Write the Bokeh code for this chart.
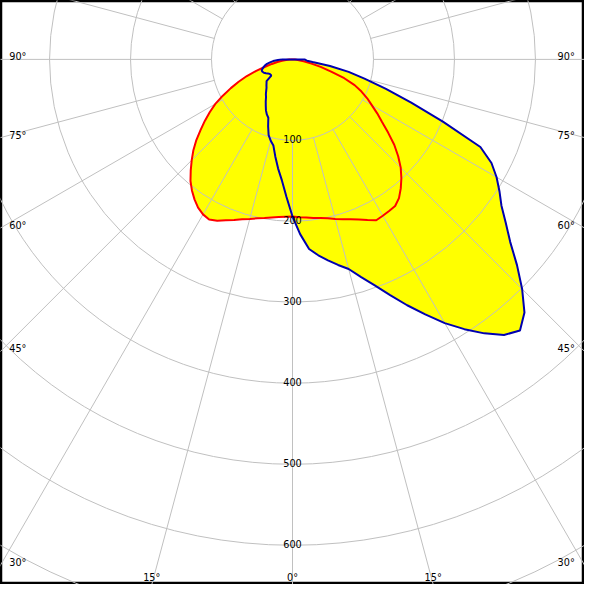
import numpy as np
from bokeh.plotting import figure
from bokeh.models import Range1d
from bokeh.core.properties import value
from bokeh.embed import file_html
from bokeh.resources import INLINE

# ---- data (gamma in degrees, luminous intensity in cd) ----
gamma = [0, 2.5, 5, 7.5, 10, 12.5, 15, 17.5, 20, 22.5, 25, 27.5, 30, 32.5, 35,
         37.5, 40, 42.5, 45, 47.5, 50, 52.5, 55, 57.5, 60, 62.5, 65, 67.5, 70,
         72.5, 75, 77.5, 80, 82.5, 85, 87.5, 90]

red_left = [194, 194.5, 195.5, 197, 199, 201, 204, 207, 211, 215, 220, 223, 221,
            217, 211, 204, 196, 186, 176, 166, 155, 143, 132, 121, 110, 97, 84,
            72, 60, 47, 35, 26, 19, 13, 8, 4, 2]
red_right = [194, 195, 196, 197.5, 199, 201, 204, 207, 210, 214, 219, 224, 223,
             222, 221, 216, 208, 199, 189, 177, 164, 149, 135, 124, 113, 104, 94,
             83, 68, 50, 36, 24, 14, 8, 5, 3, 2]
blue_left = [194, 170, 150, 136, 122, 109, 104, 98, 88, 78, 75, 71, 66, 61.5, 57,
             54, 50.5, 47.5, 45.5, 43.5, 41.8, 33, 33, 33.3, 35, 37, 39, 40, 40.5,
             39, 37, 35, 32, 28, 24, 18, 13]
blue_right = [194, 216, 235, 244, 252, 260, 268, 282, 297, 315, 335, 355, 376, 395,
              413, 429, 437, 424, 401, 376, 351, 332, 315, 303, 291, 277, 256, 201,
              156, 121, 92, 71, 47, 25, 18, 16, 15]

rings = [100, 200, 300, 400, 500, 600, 700, 800]
ring_labels = ["100", "200", "300", "400", "500", "600"]
side_angles = [90, 75, 60, 45, 30]
side_labels = ["90°", "75°", "60°", "45°", "30°"]
bottom_angles = [-15, 0, 15]
bottom_labels = ["15°", "0°", "15°"]

# ---- geometry / scale ----
K = 0.832           # reference pixels per cd
CX_PX, CY_PX = 300.0, 60.5
XL, XR = -CX_PX / K, (600 - CX_PX) / K
YT, YB = CY_PX / K, -(600 - CY_PX) / K
S = 584 / 600.0     # screen scale
FONT = value("DejaVu Sans")
FS = "9.7px"


def curve(left, right):
    g = np.concatenate([-np.array(gamma[::-1]), np.array(gamma[1:])])
    r = np.concatenate([np.array(left[::-1], float), np.array(right[1:], float)])
    a = np.radians(g)
    return list(r * np.sin(a)), list(-r * np.cos(a))


p = figure(width=584, height=584, output_backend="svg", toolbar_location=None,
           x_range=Range1d(XL, XR), y_range=Range1d(YB, YT),
           x_axis_type=None, y_axis_type=None, min_border=0,
           background_fill_color="white", border_fill_color="white")
p.grid.visible = False
p.outline_line_color = "black"
p.outline_line_width = 3.5

rx, ry = curve(red_left, red_right)
bx, by = curve(blue_left, blue_right)

p.patch(rx, ry, fill_color="#ffff00", line_color=None)
p.patch(bx, by, fill_color="#ffff00", line_color=None)

# grid
GRID = "#c0c0c0"
p.circle(x=[0] * len(rings), y=[0] * len(rings), radius=rings,
         fill_color=None, line_color=GRID, line_width=1)
ang = np.radians(np.arange(0, 360, 15))
r0, r1 = rings[0], 1200
p.segment(x0=list(r0 * np.sin(ang)), y0=list(-r0 * np.cos(ang)),
          x1=list(r1 * np.sin(ang)), y1=list(-r1 * np.cos(ang)),
          line_color=GRID, line_width=1)

# curves
p.line(rx + [rx[0]], ry + [ry[0]], line_color="#ff0000", line_width=2)
p.line(bx + [bx[0]], by + [by[0]], line_color="#0000b0", line_width=2)

# intensity labels
p.text(x=[0] * len(ring_labels), y=[-v for v in rings[:len(ring_labels)]],
       text=ring_labels, text_align="center", text_baseline="alphabetic",
       y_offset=-1.5 * S, text_font=FONT, text_font_size=FS, text_color="black")

# side angle labels
half_w = CX_PX / K
ys = [-(half_w / np.tan(np.radians(a))) if a != 90 else 0.0 for a in side_angles]
p.text(x=[XL] * len(ys), y=ys, text=side_labels, text_align="left",
       text_baseline="alphabetic", x_offset=9 * S, y_offset=-2.5 * S,
       text_font=FONT, text_font_size=FS, text_color="black")
p.text(x=[XR] * len(ys), y=ys, text=side_labels, text_align="right",
       text_baseline="alphabetic", x_offset=-10 * S, y_offset=-2.5 * S,
       text_font=FONT, text_font_size=FS, text_color="black")

# bottom angle labels
depth = -YB
bxs = [depth * np.tan(np.radians(a)) for a in bottom_angles]
p.text(x=bxs, y=[YB] * len(bxs), text=bottom_labels, text_align="center",
       text_baseline="alphabetic", y_offset=-7 * S,
       text_font=FONT, text_font_size=FS, text_color="black")

open("out.html", "w").write(file_html(p, INLINE))
